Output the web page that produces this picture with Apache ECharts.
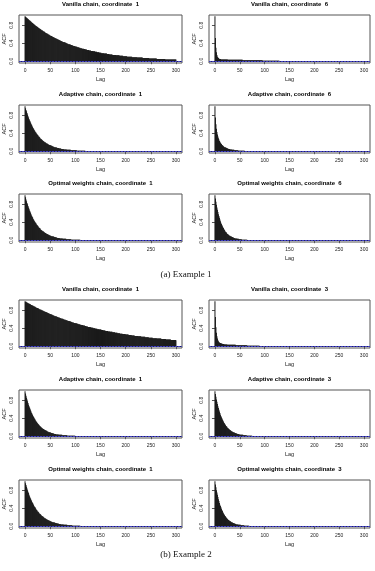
<!DOCTYPE html>
<html>
<head>
<meta charset="utf-8">
<script src="https://cdn.jsdelivr.net/npm/echarts@6/dist/echarts.min.js"></script>
<style>
  html, body { margin: 0; padding: 0; background: #fff; }
  #chart { width: 375px; height: 571px; }
</style>
</head>
<body>
<div id="chart"></div>
<script>
// tick labels
const xTicks = [0, 50, 100, 150, 200, 250, 300];
const yTicks = [0, 0.4, 0.8];
const ciBand = 0.015; // blue dashed bounds, +/- around zero

const captions = ['(a) Example 1', '(b) Example 2'];
const titles = [
  'Vanilla chain, coordinate  1', 'Vanilla chain, coordinate  6',
  'Adaptive chain, coordinate  1', 'Adaptive chain, coordinate  6',
  'Optimal weights chain, coordinate  1', 'Optimal weights chain, coordinate  6',
  'Vanilla chain, coordinate  1', 'Vanilla chain, coordinate  3',
  'Adaptive chain, coordinate  1', 'Adaptive chain, coordinate  3',
  'Optimal weights chain, coordinate  1', 'Optimal weights chain, coordinate  3'
];

// ACF by lag (index = lag); lags not listed are ~0
const acfEx1Van1 = [
  1,.99,.98,.97,.96,.95,.94,.93,.92,.91,
  .90,.89,.88,.87,.86,.85,.84,.83,.82,.81,
  .80,.79,.78,.78,.77,.76,.75,.74,.73,.73,
  .72,.71,.70,.69,.69,.68,.67,.66,.66,.65,
  .64,.63,.63,.62,.61,.61,.60,.59,.59,.58,
  .57,.57,.56,.56,.55,.54,.54,.53,.53,.52,
  .51,.51,.50,.50,.49,.49,.48,.48,.47,.46,
  .46,.45,.45,.44,.44,.43,.43,.42,.42,.42,
  .41,.41,.40,.40,.39,.39,.38,.38,.38,.37,
  .37,.36,.36,.36,.35,.35,.34,.34,.34,.33,
  .33,.33,.32,.32,.31,.31,.31,.30,.30,.30,
  .29,.29,.29,.28,.28,.28,.28,.27,.27,.27,
  .26,.26,.26,.25,.25,.25,.25,.24,.24,.24,
  .24,.23,.23,.23,.23,.22,.22,.22,.22,.21,
  .21,.21,.21,.20,.20,.20,.20,.20,.19,.19,
  .19,.19,.18,.18,.18,.18,.18,.17,.17,.17,
  .17,.17,.17,.16,.16,.16,.16,.16,.15,.15,
  .15,.15,.15,.15,.14,.14,.14,.14,.14,.14,
  .14,.13,.13,.13,.13,.13,.13,.13,.12,.12,
  .12,.12,.12,.12,.12,.11,.11,.11,.11,.11,
  .11,.11,.11,.10,.10,.10,.10,.10,.10,.10,
  .10,.10,.10,.09,.09,.09,.09,.09,.09,.09,
  .09,.09,.09,.08,.08,.08,.08,.08,.08,.08,
  .08,.08,.08,.08,.07,.07,.07,.07,.07,.07,
  .07,.07,.07,.07,.07,.07,.07,.06,.06,.06,
  .06,.06,.06,.06,.06,.06,.06,.06,.06,.06,
  .06,.06,.05,.05,.05,.05,.05,.05,.05,.05,
  .05,.05,.05,.05,.05,.05,.05,.05,.05,.04,
  .04,.04,.04,.04,.04,.04,.04,.04,.04,.04,
  .04,.04,.04,.04,.04,.04,.04,.04,.04,.04,
  .04
];
const acfEx1Van6 = [
  1,.52,.30,.20,.14,.10,.08,.07,.06,.05,
  .05,.05,.04,.04,.04,.04,.04,.04,.04,.04,
  .04,.04,.04,.04,.04,.04,.03,.03,.03,.03,
  .03,.03,.03,.03,.03,.03,.03,.03,.03,.03,
  .03,.03,.03,.03,.03,.03,.03,.03,.03,.03,
  .03,.03,.03,.03,.03,.03,.02,.02,.02,.02,
  .02,.02,.02,.02,.02,.02,.02,.02,.02,.02,
  .02,.02,.02,.02,.02,.02,.02,.02,.02,.02,
  .02,.02,.02,.02,.02,.02,.02,.02,.02,.02,
  .02,.02,.02,.02,.02,.02,.01,.01,.01,.01,
  .01,.01,.01,.01,.01,.01,.01,.01,.01,.01,
  .01,.01,.01,.01,.01,.01,.01,.01,.01,.01,
  .01,.01,.01,.01,.01,.01,.01,.01,.01,.01
];
const acfEx1Ada1 = [
  1,.96,.92,.89,.85,.82,.78,.75,.72,.69,
  .67,.64,.61,.59,.57,.54,.52,.50,.48,.46,
  .44,.42,.41,.39,.38,.36,.35,.33,.32,.31,
  .29,.28,.27,.26,.25,.24,.23,.22,.21,.20,
  .20,.19,.18,.17,.17,.16,.15,.15,.14,.14,
  .13,.13,.12,.12,.11,.11,.10,.10,.09,.09,
  .09,.08,.08,.08,.07,.07,.07,.07,.06,.06,
  .06,.06,.05,.05,.05,.05,.05,.04,.04,.04,
  .04,.04,.04,.03,.03,.03,.03,.03,.03,.03,
  .03,.02,.02,.02,.02,.02,.02,.02,.02,.02,
  .02,.02,.02,.01,.01,.01,.01,.01,.01,.01,
  .01,.01,.01,.01,.01,.01,.01,.01,.01,.01
];
const acfEx1Ada6 = [
  1,.75,.60,.50,.43,.37,.33,.29,.26,.23,
  .21,.19,.17,.16,.14,.13,.12,.11,.10,.09,
  .09,.08,.08,.07,.07,.06,.06,.05,.05,.05,
  .04,.04,.04,.04,.03,.03,.03,.03,.03,.02,
  .02,.02,.02,.02,.02,.02,.02,.01,.01,.01,
  .01,.01,.01,.01,.01,.01,.01,.01,.01,.01
];
const acfEx1Opt1 = [
  1,.96,.91,.87,.83,.80,.76,.73,.70,.66,
  .64,.61,.58,.55,.53,.51,.48,.46,.44,.42,
  .40,.39,.37,.35,.34,.32,.31,.29,.28,.27,
  .26,.24,.23,.22,.21,.20,.20,.19,.18,.17,
  .16,.16,.15,.14,.14,.13,.12,.12,.11,.11,
  .10,.10,.09,.09,.09,.08,.08,.08,.07,.07,
  .07,.06,.06,.06,.05,.05,.05,.05,.05,.04,
  .04,.04,.04,.04,.04,.03,.03,.03,.03,.03,
  .03,.03,.02,.02,.02,.02,.02,.02,.02,.02,
  .02,.02,.01,.01,.01,.01,.01,.01,.01,.01,
  .01,.01,.01,.01,.01,.01,.01,.01,.01,.01
];
const acfEx1Opt6 = [
  1,.93,.86,.79,.73,.68,.63,.58,.54,.50,
  .46,.42,.39,.36,.34,.31,.29,.27,.25,.23,
  .21,.19,.18,.17,.15,.14,.13,.12,.11,.10,
  .10,.09,.08,.08,.07,.07,.06,.06,.05,.05,
  .04,.04,.04,.04,.03,.03,.03,.03,.02,.02,
  .02,.02,.02,.02,.01,.01,.01,.01,.01,.01,
  .01,.01,.01,.01,.01
];
const acfEx2Van1 = [
  1,.99,.99,.98,.97,.97,.96,.95,.95,.94,
  .94,.93,.92,.92,.91,.91,.90,.89,.89,.88,
  .88,.87,.86,.86,.85,.85,.84,.84,.83,.82,
  .82,.81,.81,.80,.80,.79,.79,.78,.78,.77,
  .77,.76,.76,.75,.75,.74,.74,.73,.73,.72,
  .72,.71,.71,.70,.70,.69,.69,.68,.68,.67,
  .67,.67,.66,.66,.65,.65,.64,.64,.64,.63,
  .63,.62,.62,.61,.61,.61,.60,.60,.59,.59,
  .59,.58,.58,.58,.57,.57,.56,.56,.56,.55,
  .55,.55,.54,.54,.53,.53,.53,.52,.52,.52,
  .51,.51,.51,.50,.50,.50,.49,.49,.49,.48,
  .48,.48,.47,.47,.47,.46,.46,.46,.46,.45,
  .45,.45,.44,.44,.44,.43,.43,.43,.43,.42,
  .42,.42,.41,.41,.41,.41,.40,.40,.40,.40,
  .39,.39,.39,.39,.38,.38,.38,.38,.37,.37,
  .37,.37,.36,.36,.36,.36,.35,.35,.35,.35,
  .34,.34,.34,.34,.34,.33,.33,.33,.33,.32,
  .32,.32,.32,.32,.31,.31,.31,.31,.31,.30,
  .30,.30,.30,.30,.29,.29,.29,.29,.29,.28,
  .28,.28,.28,.28,.27,.27,.27,.27,.27,.27,
  .26,.26,.26,.26,.26,.26,.25,.25,.25,.25,
  .25,.25,.24,.24,.24,.24,.24,.24,.23,.23,
  .23,.23,.23,.23,.23,.22,.22,.22,.22,.22,
  .22,.21,.21,.21,.21,.21,.21,.21,.21,.20,
  .20,.20,.20,.20,.20,.20,.19,.19,.19,.19,
  .19,.19,.19,.19,.18,.18,.18,.18,.18,.18,
  .18,.18,.17,.17,.17,.17,.17,.17,.17,.17,
  .17,.16,.16,.16,.16,.16,.16,.16,.16,.16,
  .15,.15,.15,.15,.15,.15,.15,.15,.15,.15,
  .14,.14,.14,.14,.14,.14,.14,.14,.14,.14,
  .13
];
const acfEx2Van3 = [
  1,.65,.42,.30,.22,.17,.13,.11,.09,.08,
  .07,.07,.06,.06,.06,.05,.05,.05,.05,.04,
  .04,.04,.04,.04,.04,.03,.03,.03,.03,.03,
  .03,.03,.03,.03,.03,.03,.03,.03,.03,.03,
  .03,.03,.02,.02,.02,.02,.02,.02,.02,.02,
  .02,.02,.02,.02,.02,.02,.02,.02,.02,.02,
  .02,.02,.02,.02,.02,.01,.01,.01,.01,.01,
  .01,.01,.01,.01,.01,.01,.01,.01,.01,.01,
  .01,.01,.01,.01,.01,.01,.01,.01,.01,.01
];
const acfEx2Ada1 = [
  1,.95,.90,.86,.82,.78,.74,.70,.67,.64,
  .61,.58,.55,.52,.50,.47,.45,.43,.41,.39,
  .37,.35,.33,.32,.30,.29,.27,.26,.25,.23,
  .22,.21,.20,.19,.18,.17,.16,.16,.15,.14,
  .13,.13,.12,.12,.11,.10,.10,.09,.09,.09,
  .08,.08,.07,.07,.07,.06,.06,.06,.05,.05,
  .05,.05,.04,.04,.04,.04,.04,.03,.03,.03,
  .03,.03,.03,.03,.02,.02,.02,.02,.02,.02,
  .02,.02,.02,.02,.01,.01,.01,.01,.01,.01,
  .01,.01,.01,.01,.01,.01,.01,.01,.01,.01
];
const acfEx2Ada3 = [
  1,.94,.88,.82,.77,.72,.67,.63,.59,.55,
  .52,.48,.45,.42,.40,.37,.35,.33,.30,.29,
  .27,.25,.23,.22,.21,.19,.18,.17,.16,.15,
  .14,.13,.12,.11,.11,.10,.09,.09,.08,.08,
  .07,.07,.06,.06,.06,.05,.05,.05,.04,.04,
  .04,.03,.03,.03,.03,.03,.03,.02,.02,.02,
  .02,.02,.02,.02,.01,.01,.01,.01,.01,.01,
  .01,.01,.01,.01,.01
];
const acfEx2Opt1 = [
  1,.96,.92,.88,.84,.80,.77,.74,.70,.67,
  .64,.62,.59,.57,.54,.52,.50,.47,.45,.43,
  .42,.40,.38,.36,.35,.33,.32,.31,.29,.28,
  .27,.26,.25,.23,.22,.22,.21,.20,.19,.18,
  .17,.17,.16,.15,.15,.14,.13,.13,.12,.12,
  .11,.11,.10,.10,.09,.09,.09,.08,.08,.08,
  .07,.07,.07,.06,.06,.06,.06,.05,.05,.05,
  .05,.04,.04,.04,.04,.04,.04,.03,.03,.03,
  .03,.03,.03,.03,.02,.02,.02,.02,.02,.02,
  .02,.02,.02,.02,.01,.01,.01,.01,.01,.01,
  .01,.01,.01,.01,.01,.01,.01,.01,.01,.01
];
const acfEx2Opt3 = [
  1,.93,.87,.80,.75,.70,.65,.60,.56,.52,
  .48,.45,.42,.39,.36,.34,.31,.29,.27,.25,
  .23,.22,.20,.19,.18,.16,.15,.14,.13,.12,
  .11,.11,.10,.09,.09,.08,.07,.07,.06,.06,
  .06,.05,.05,.04,.04,.04,.04,.03,.03,.03,
  .03,.03,.02,.02,.02,.02,.02,.02,.02,.01,
  .01,.01,.01,.01,.01,.01,.01,.01,.01
];

const panelAcf = [
  acfEx1Van1, acfEx1Van6, acfEx1Ada1, acfEx1Ada6, acfEx1Opt1, acfEx1Opt6,
  acfEx2Van1, acfEx2Van3, acfEx2Ada1, acfEx2Ada3, acfEx2Opt1, acfEx2Opt3
];

// layout (box edges in px)
const colX = [[19, 182], [209, 370]];
const rowTop = [15, 105, 194, 300, 390, 480];
const boxH = 48;
const captionY = [275, 555];

const font = '"Liberation Sans", Arial, sans-serif';
const grids = [], xAxes = [], yAxes = [], series = [], graphics = [];

panelAcf.forEach((acf, i) => {
  const r = Math.floor(i / 2), c = i % 2;
  const x0 = colX[c][0], x1 = colX[c][1], top = rowTop[r];
  grids.push({
    left: x0, top: top, width: x1 - x0, height: boxH,
    show: true, borderColor: '#555', borderWidth: 1, backgroundColor: 'transparent'
  });
  xAxes.push({
    type: 'value', gridIndex: i, min: -12, max: 312,
    axisLine: { show: false },
    axisTick: { show: true, length: 3, customValues: xTicks, lineStyle: { color: '#555' } },
    axisLabel: { customValues: xTicks, fontSize: 5, margin: 5, color: '#222', fontFamily: font },
    splitLine: { show: false },
    name: 'Lag', nameLocation: 'middle', nameGap: 13,
    nameTextStyle: { fontSize: 5.5, color: '#222', fontFamily: font }
  });
  yAxes.push({
    type: 'value', gridIndex: i, min: -0.04, max: 1.03,
    axisLine: { show: false },
    axisTick: { show: true, length: 3, customValues: yTicks, lineStyle: { color: '#555' } },
    axisLabel: {
      customValues: yTicks, fontSize: 5, margin: 5, rotate: 90, color: '#222', fontFamily: font,
      formatter: v => v.toFixed(1)
    },
    splitLine: { show: false },
    name: 'ACF', nameLocation: 'middle', nameGap: 12, nameRotate: 90,
    nameTextStyle: { fontSize: 5.5, color: '#222', fontFamily: font }
  });
  series.push({
    type: 'bar', xAxisIndex: i, yAxisIndex: i, silent: true,
    barWidth: 1,
    itemStyle: { color: '#1a1a1a' },
    data: acf.map((v, k) => [k, v]),
    markLine: {
      silent: true, symbol: ['none', 'none'], label: { show: false },
      lineStyle: { color: '#4040c4', type: [2, 1], width: 1 },
      data: [
        { yAxis: 0, lineStyle: { color: '#202060', type: 'solid', width: 1 } },
        { yAxis: ciBand }, { yAxis: -ciBand }
      ]
    }
  });
  graphics.push({
    type: 'text', x: (x0 + x1) / 2, y: top - 11,
    style: {
      text: titles[i], fill: '#000', align: 'center', verticalAlign: 'middle',
      font: 'bold 6px ' + font
    }
  });
});

captions.forEach((t, j) => {
  graphics.push({
    type: 'text', x: 186, y: captionY[j],
    style: {
      text: t, fill: '#111', align: 'center', verticalAlign: 'middle',
      font: '9px "Liberation Serif", "Times New Roman", serif'
    }
  });
});

const chart = echarts.init(document.getElementById('chart'), null, { renderer: 'canvas' });
chart.setOption({
  animation: false,
  backgroundColor: '#fff',
  grid: grids,
  xAxis: xAxes,
  yAxis: yAxes,
  series: series,
  graphic: graphics
});
</script>
</body>
</html>
